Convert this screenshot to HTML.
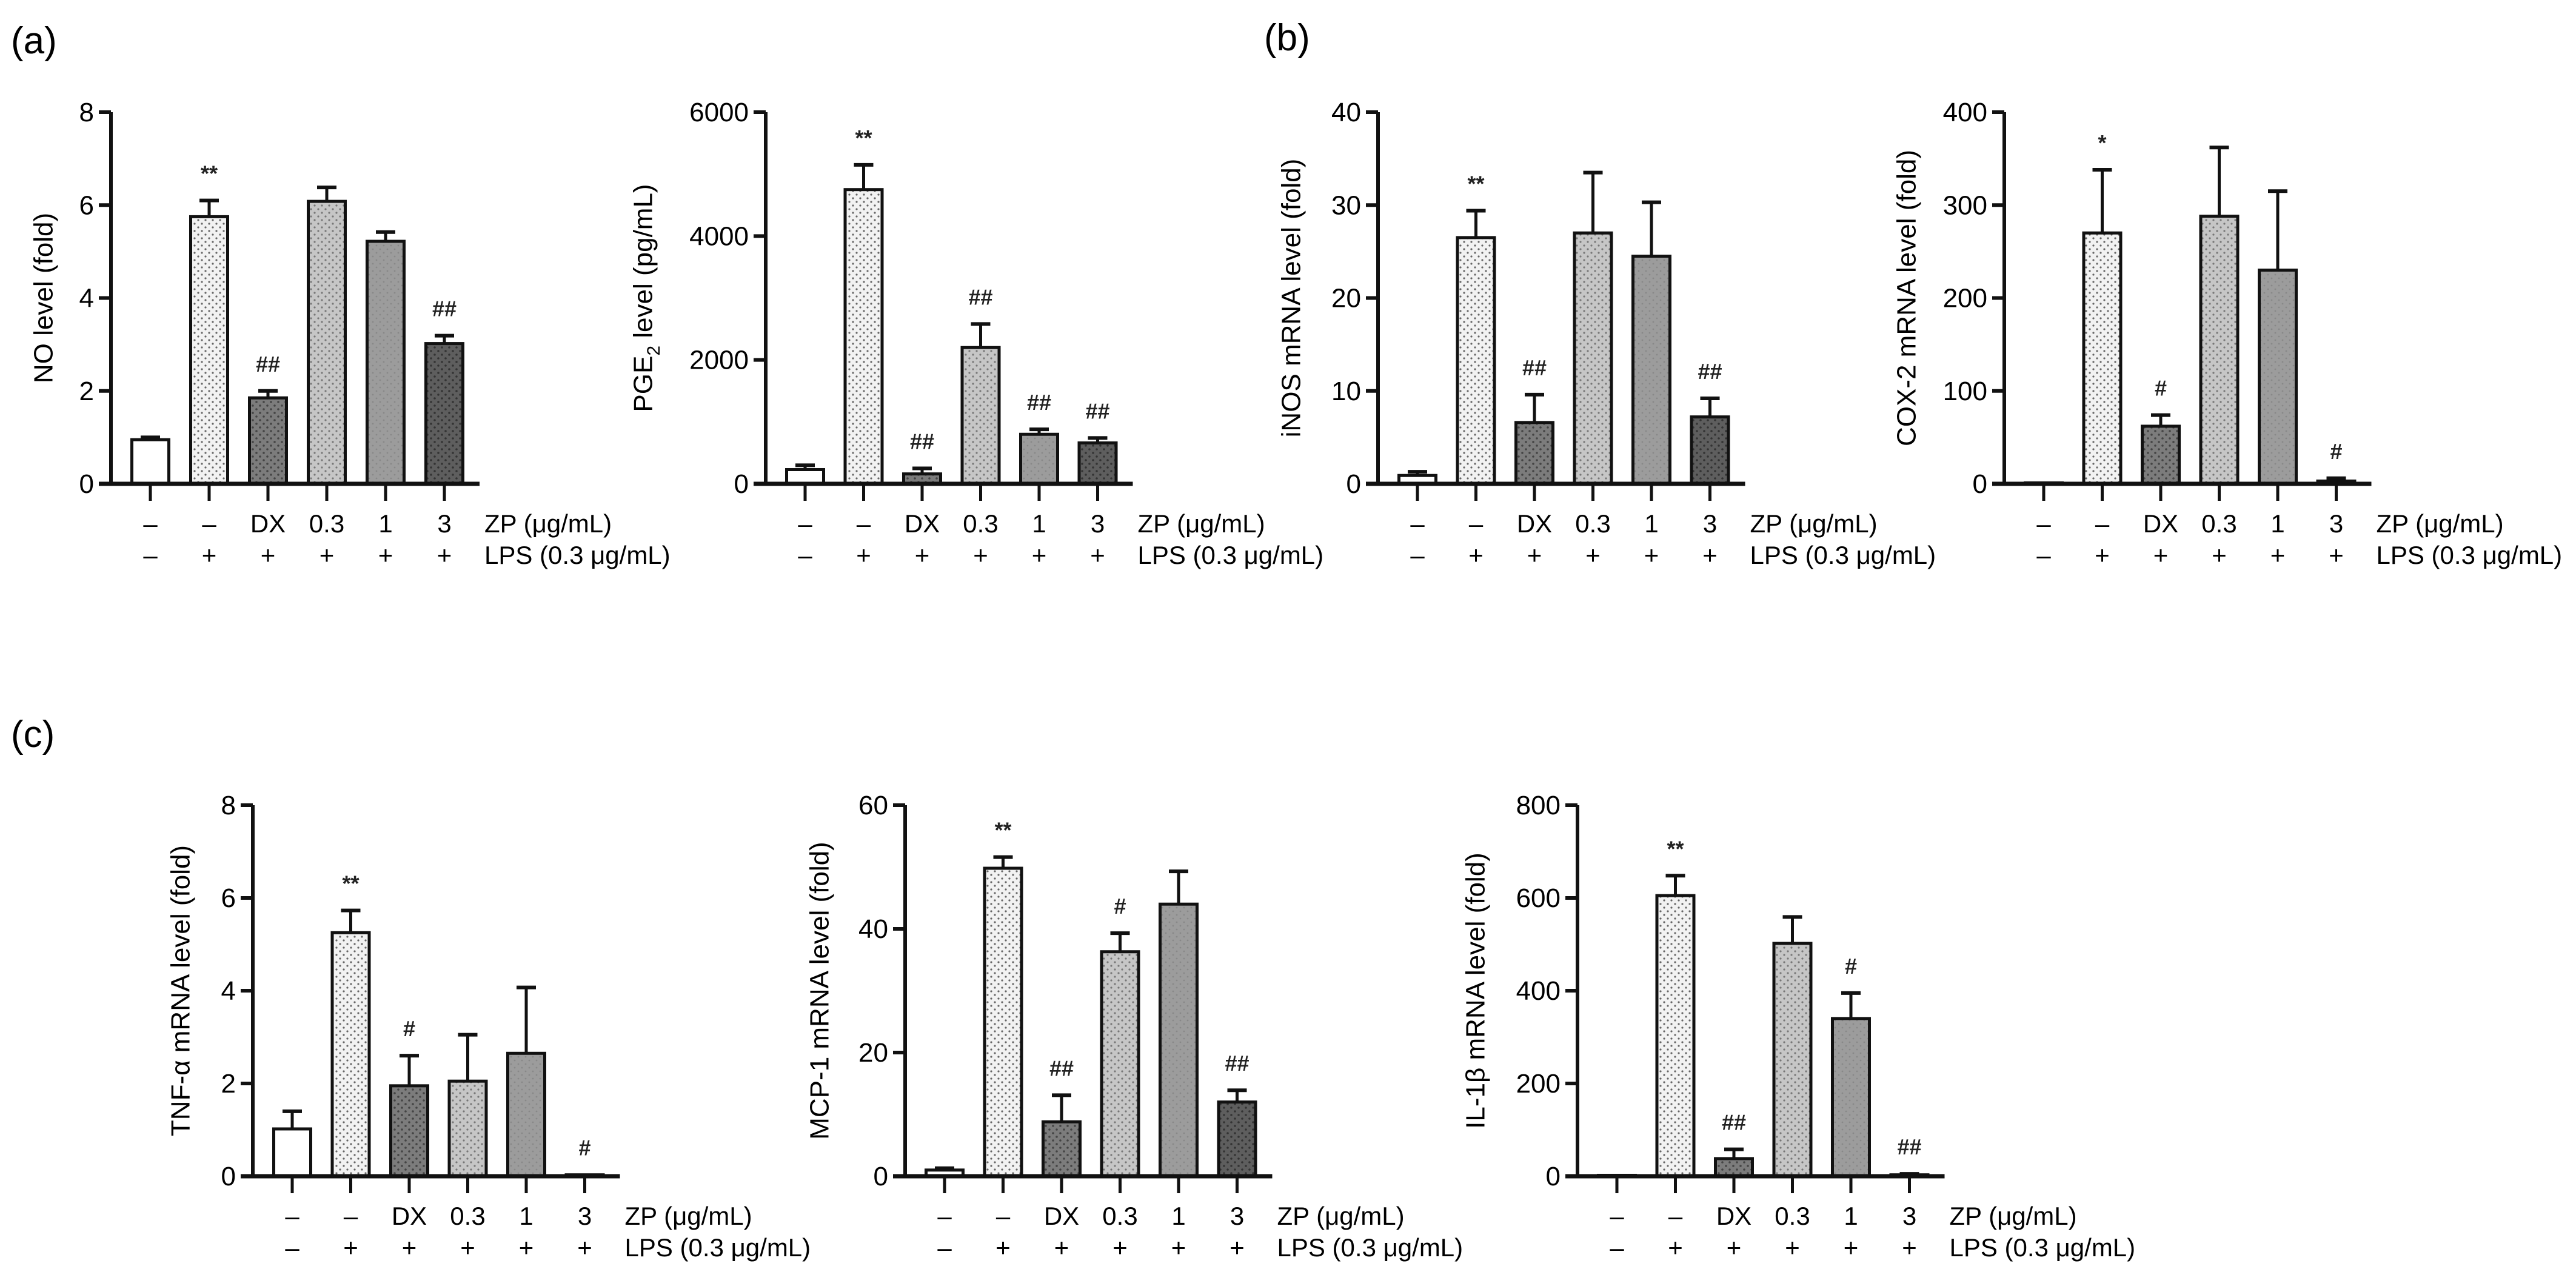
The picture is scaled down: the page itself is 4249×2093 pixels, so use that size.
<!DOCTYPE html>
<html><head><meta charset="utf-8">
<style>
html,body{margin:0;padding:0;background:#fff;}
svg{display:block;font-family:"Liberation Sans",Arial,sans-serif;}
</style></head>
<body>
<svg id="fig" xmlns="http://www.w3.org/2000/svg" width="4249" height="2093" viewBox="0 0 4249 2093">
<defs>
<pattern id="p1" width="12" height="12" patternUnits="userSpaceOnUse"><rect width="12" height="12" fill="#f2f2f2"/><circle cx="3" cy="3" r="1.6" fill="#666"/><circle cx="9" cy="9" r="1.6" fill="#666"/></pattern>
<pattern id="p2" width="12" height="12" patternUnits="userSpaceOnUse"><rect width="12" height="12" fill="#7c7c7c"/><circle cx="3" cy="3" r="1.8" fill="#444"/><circle cx="9" cy="9" r="1.8" fill="#444"/></pattern>
<pattern id="p3" width="12" height="12" patternUnits="userSpaceOnUse"><rect width="12" height="12" fill="#c6c6c6"/><circle cx="3" cy="3" r="1.6" fill="#777"/><circle cx="9" cy="9" r="1.6" fill="#777"/></pattern>
<pattern id="p4" width="12" height="12" patternUnits="userSpaceOnUse"><rect width="12" height="12" fill="#9c9c9c"/><circle cx="3" cy="3" r="1.4" fill="#888"/><circle cx="9" cy="9" r="1.4" fill="#888"/></pattern>
<pattern id="p5" width="12" height="12" patternUnits="userSpaceOnUse"><rect width="12" height="12" fill="#5e5e5e"/><circle cx="3" cy="3" r="1.8" fill="#333"/><circle cx="9" cy="9" r="1.8" fill="#333"/></pattern>
</defs>
<text x="18" y="88" font-size="62">(a)</text>
<text x="2085" y="83" font-size="62">(b)</text>
<text x="18" y="1232" font-size="62">(c)</text>
</svg>
<script>
const zpLabels = ["–","–","DX","0.3","1","3"];
const lpsLabels = ["–","+","+","+","+","+"];
const noValues = [0.95,5.75,1.85,6.08,5.22,3.02];
const noErrors = [0.05,0.35,0.15,0.3,0.2,0.17];
const noMarks = ["","**","##","","","##"];
const noTicks = [0,2,4,6,8];
const pgeValues = [230,4750,160,2200,800,660];
const pgeErrors = [70,400,90,380,80,80];
const pgeMarks = ["","**","##","##","##","##"];
const pgeTicks = [0,2000,4000,6000];
const inosValues = [0.9,26.5,6.6,27,24.5,7.2];
const inosErrors = [0.4,2.9,3.0,6.5,5.8,2.0];
const inosMarks = ["","**","##","","","##"];
const inosTicks = [0,10,20,30,40];
const coxValues = [1,270,62,288,230,3];
const coxErrors = [0,68,12,74,85,3];
const coxMarks = ["","*","#","","","#"];
const coxTicks = [0,100,200,300,400];
const tnfValues = [1.02,5.25,1.95,2.05,2.65,0.03];
const tnfErrors = [0.38,0.48,0.65,1.0,1.42,0];
const tnfMarks = ["","**","#","","","#"];
const tnfTicks = [0,2,4,6,8];
const mcpValues = [1,49.8,8.8,36.3,44,12];
const mcpErrors = [0.3,1.8,4.3,3.0,5.3,1.9];
const mcpMarks = ["","**","##","#","","##"];
const mcpTicks = [0,20,40,60];
const ilValues = [2,605,38,502,340,3];
const ilErrors = [0,43,20,57,55,2];
const ilMarks = ["","**","##","","#","##"];
const ilTicks = [0,200,400,600,800];

const NS = "http://www.w3.org/2000/svg";
const svg = document.getElementById("fig");
const fills = ["#fff","url(#p1)","url(#p2)","url(#p3)","url(#p4)","url(#p5)"];
function mk(tag, attrs, parent){const e=document.createElementNS(NS,tag);for(const k in attrs)e.setAttribute(k,attrs[k]);(parent||svg).appendChild(e);return e;}

function panel(cfg){
  const g = mk("g",{});
  
  
  const ticks = cfg.ticks, max = ticks[ticks.length-1];
  const y = v => cfg.y0 - (v/max)*(cfg.y0-cfg.yTop);
  const xs = cfg.x0 + 65, step = cfg.step;
  const bx = i => xs + i*step;
  const xEnd = bx(5) + 58;
  cfg.values.forEach((v,i)=>{
    const cx = bx(i), w = 61, top = y(v);
    const eTop = y(v + cfg.errors[i]);
    if(cfg.errors[i] > 0){
      const el = mk("line",{x1:cx,x2:cx,y1:top,y2:eTop,stroke:"#111","stroke-width":5},g);
      
      
      const cap = mk("line",{x1:cx-16,x2:cx+16,y1:eTop,y2:eTop,stroke:"#111","stroke-width":6},g);
      
      
    }
    const r = mk("rect",{x:cx-w/2,y:top,width:w,height:Math.max(cfg.y0-top,1),fill:fills[i],stroke:"#111","stroke-width":5},g);
    
    
    if(cfg.marks[i]){
      const t = mk("text",{x:cx,y:Math.min(eTop,top)-32,"font-size":36,"text-anchor":"middle","font-weight":"bold",fill:"#222"},g);
      t.textContent = cfg.marks[i];
      
      
    }
    const tk = mk("line",{x1:cx,x2:cx,y1:cfg.y0,y2:cfg.y0+28,stroke:"#111","stroke-width":5},g);
    
    
    const z = mk("text",{x:cx,y:cfg.y0+80,"font-size":42,"text-anchor":"middle"},g);
    z.textContent = zpLabels[i];
    
    
    const l = mk("text",{x:cx,y:cfg.y0+132,"font-size":42,"text-anchor":"middle"},g);
    l.textContent = lpsLabels[i];
    
    
  });
  const ya = mk("line",{x1:cfg.x0,x2:cfg.x0,y1:cfg.yTop,y2:cfg.y0,stroke:"#111","stroke-width":6},g);
  
  
  const xa = mk("line",{x1:cfg.x0-20,x2:xEnd,y1:cfg.y0,y2:cfg.y0,stroke:"#111","stroke-width":7},g);
  
  
  ticks.forEach(t=>{
    const ty = y(t);
    const tl = mk("line",{x1:cfg.x0-20,x2:cfg.x0,y1:ty,y2:ty,stroke:"#111","stroke-width":6},g);
    
    
    const tt = mk("text",{x:cfg.x0-28,y:ty+15,"font-size":44,"text-anchor":"end"},g);
    tt.textContent = t;
    
    
  });
  const zp = mk("text",{x:xEnd+8,y:cfg.y0+80,"font-size":42},g);
  zp.textContent = "ZP (μg/mL)";
  
  
  const lp = mk("text",{x:xEnd+8,y:cfg.y0+132,"font-size":42},g);
  lp.textContent = "LPS (0.3 μg/mL)";
  
  
  const ymid = (cfg.y0+cfg.yTop)/2;
  const yt = mk("text",{x:cfg.titleX,y:ymid,"font-size":44,"text-anchor":"middle",transform:`rotate(-90 ${cfg.titleX} ${ymid})`,"dominant-baseline":"middle"},g);
  yt.innerHTML = cfg.title;
  
  
}

panel({name:"no-chart",x0:183,step:97,y0:798,yTop:185,values:noValues,errors:noErrors,marks:noMarks,ticks:noTicks,titleX:75,title:"NO level (fold)"});
panel({name:"pge2-chart",x0:1263,step:96.5,y0:798,yTop:185,values:pgeValues,errors:pgeErrors,marks:pgeMarks,ticks:pgeTicks,titleX:1064,title:'PGE<tspan baseline-shift="sub" font-size="30">2</tspan> level (pg/mL)'});
panel({name:"inos-chart",x0:2273,step:96.5,y0:798,yTop:185,values:inosValues,errors:inosErrors,marks:inosMarks,ticks:inosTicks,titleX:2133,title:"iNOS mRNA level (fold)"});
panel({name:"cox2-chart",x0:3306,step:96.5,y0:798,yTop:185,values:coxValues,errors:coxErrors,marks:coxMarks,ticks:coxTicks,titleX:3148,title:"COX-2 mRNA level (fold)"});
panel({name:"tnf-chart",x0:417,step:96.5,y0:1940,yTop:1328,values:tnfValues,errors:tnfErrors,marks:tnfMarks,ticks:tnfTicks,titleX:301,title:"TNF-α mRNA level (fold)"});
panel({name:"mcp1-chart",x0:1493,step:96.5,y0:1940,yTop:1328,values:mcpValues,errors:mcpErrors,marks:mcpMarks,ticks:mcpTicks,titleX:1355,title:"MCP-1 mRNA level (fold)"});
panel({name:"il1b-chart",x0:2602,step:96.5,y0:1940,yTop:1328,values:ilValues,errors:ilErrors,marks:ilMarks,ticks:ilTicks,titleX:2437,title:"IL-1β mRNA level (fold)"});
</script>
</body></html>
